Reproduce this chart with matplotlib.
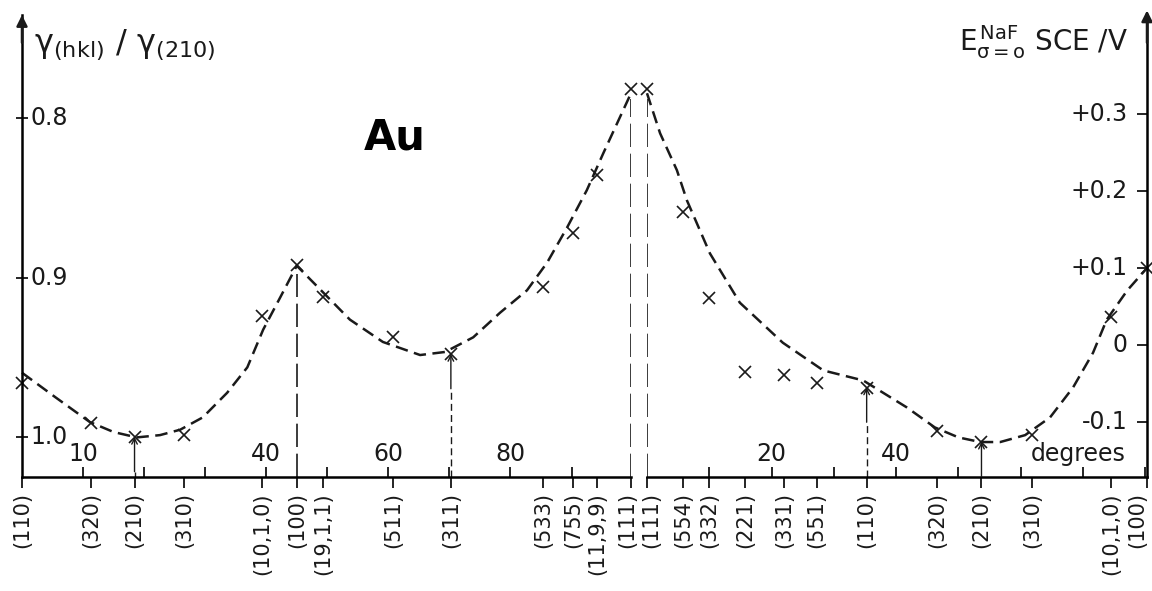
import numpy as np
import matplotlib.pyplot as plt

# left branch of the triangle: (110) -> (100) -> (111), angle from (110) in degrees
left_planes = ['(110)', '(320)', '(210)', '(310)', '(10,1,0)', '(100)', '(19,1,1)',
               '(511)', '(311)', '(533)', '(755)', '(11,9,9)', '(111)']
left_angles = [0.0, 11.31, 18.43, 26.57, 39.29, 45.0, 49.26,
               60.79, 70.24, 85.32, 90.29, 94.17, 99.74]
left_gamma = [0.966, 0.991, 1.000, 0.999, 0.924, 0.892, 0.912,
              0.937, 0.948, 0.906, 0.872, 0.836, 0.782]

# right branch: (111) -> (110) -> (100), angle from (111) in degrees
right_planes = ['(111)', '(554)', '(332)', '(221)', '(331)', '(551)', '(110)',
                '(320)', '(210)', '(310)', '(10,1,0)', '(100)']
right_angles = [0.0, 5.77, 10.02, 15.79, 22.00, 27.22, 35.26,
                46.57, 53.69, 61.83, 74.55, 80.26]
right_gamma = [0.782, 0.859, 0.913, 0.959, 0.961, 0.966, 0.969,
               0.996, 1.003, 0.999, 0.925, 0.894]

# potential of zero charge in NaF (V vs SCE)
left_curve_angle = [0.0, 5.5, 11.1, 15.0, 18.8, 22.6, 25.9, 29.6, 33.6, 36.9, 39.5, 42.3,
                    45.0, 50.1, 53.7, 59.1, 65.2, 69.3, 73.9, 78.3, 82.7, 86.0, 89.3,
                    92.5, 95.2, 99.74]
left_curve_e = [-0.036, -0.068, -0.100, -0.113, -0.120, -0.117, -0.110, -0.094, -0.062,
                -0.029, 0.020, 0.062, 0.103, 0.062, 0.033, 0.004, -0.013, -0.009, 0.010,
                0.042, 0.071, 0.107, 0.153, 0.201, 0.249, 0.327]
right_curve_angle = [0.0, 2.1, 4.8, 6.4, 10.1, 14.9, 21.8, 28.3, 34.7, 41.7, 46.2, 50.0,
                     53.5, 56.7, 60.7, 64.7, 68.4, 71.6, 73.8, 77.1, 80.26]
right_curve_e = [0.327, 0.275, 0.227, 0.188, 0.119, 0.055, 0.003, -0.033, -0.046, -0.081,
                 -0.107, -0.120, -0.126, -0.126, -0.117, -0.094, -0.055, -0.010, 0.033,
                 0.071, 0.100]

gamma_ticks = [0.8, 0.9, 1.0]
e_ticks = [0.3, 0.2, 0.1, 0.0, -0.1]
e_ticklabels = ['+0.3', '+0.2', '+0.1', '0', '-0.1']


def gamma_to_e(g):
    # both vertical scales share the same frame
    return (227 - 1595 * (np.asarray(g) - 0.8)) / 770


E_MIN, E_MAX = -0.1714, 0.4286
INK = '#1a1a1a'
plt.rcParams['font.family'] = ['DejaVu Sans']
plt.rcParams['mathtext.fontset'] = 'dejavusans'

fig = plt.figure(figsize=(11.52, 5.91), dpi=100)
axL = fig.add_axes([22 / 1152, 114 / 591, 609 / 1152, 462 / 591])
axR = fig.add_axes([647 / 1152, 114 / 591, 500 / 1152, 462 / 591])


def draw_branch(ax, angles, gamma, planes, c_ang, c_e, span, nudge):
    ax.set_xlim(0, span)
    ax.set_ylim(E_MIN, E_MAX)
    ax.patch.set_alpha(0)
    ax.plot(c_ang, c_e, color=INK, lw=1.8, ls=(0, (5, 2.6)), clip_on=False)
    ax.plot(angles, gamma_to_e(gamma), 'x', color=INK, ms=8, mew=1.2, clip_on=False)
    ax.spines['top'].set_visible(False)
    ax.spines['bottom'].set_linewidth(1.8)
    ax.set_xticks(angles)
    ax.set_xticklabels([])
    ax.set_xticks(np.arange(10, span, 10), minor=True)
    ax.tick_params(axis='x', which='major', direction='out', length=8, width=1.2)
    ax.tick_params(axis='x', which='minor', direction='in', length=7, width=1.2)
    for k, (a, lab) in enumerate(zip(angles, planes)):
        ax.annotate(lab, xy=(a, 0), xycoords=('data', 'axes fraction'),
                    xytext=(nudge.get(k, 0), -11), textcoords='offset points',
                    rotation=90, ha='center', va='top', fontsize=15, color=INK,
                    annotation_clip=False)


def long_drop(ax, a, g):
    ax.vlines(a, E_MIN, gamma_to_e(g) - 0.012, color=INK, lw=1.2, ls=(0, (14, 4)))


def pointer(ax, a, g):
    e = gamma_to_e(g)
    top = e - 0.045
    if top > E_MIN:
        ax.vlines(a, E_MIN, top, color=INK, lw=1.0, ls=(0, (5, 3)))
    ax.annotate('', xy=(a, e), xytext=(a, max(top, E_MIN)),
                arrowprops=dict(arrowstyle='->', lw=1.0, color=INK,
                                shrinkA=0, shrinkB=0, mutation_scale=10))


# small sideways shifts for crowded labels at the gap and the right edge
draw_branch(axL, left_angles, left_gamma, left_planes, left_curve_angle, left_curve_e,
            99.74, {len(left_planes) - 1: -3})
draw_branch(axR, right_angles, right_gamma, right_planes, right_curve_angle, right_curve_e,
            80.26, {0: 3, len(right_planes) - 1: -7})

# left vertical scale: surface energy ratio
axL.spines['right'].set_visible(False)
axL.spines['left'].set_linewidth(1.8)
axL.set_yticks(gamma_to_e(gamma_ticks))
axL.set_yticklabels([])
axL.tick_params(axis='y', direction='inout', length=8, width=1.2)
for g in gamma_ticks:
    axL.annotate(f'{g:.1f}', xy=(0, gamma_to_e(g)), xycoords=('axes fraction', 'data'),
                 xytext=(6, 0), textcoords='offset points', ha='left', va='center',
                 fontsize=17, color=INK)
axL.annotate('', xy=(0, 1.0), xytext=(0, 0.94), xycoords='axes fraction',
             arrowprops=dict(arrowstyle='-|>', color=INK, lw=1.8, mutation_scale=16,
                             shrinkA=0, shrinkB=0))

# right vertical scale: potential of zero charge
axR.spines['left'].set_visible(False)
axR.spines['right'].set_linewidth(1.8)
axR.yaxis.tick_right()
axR.set_yticks(e_ticks)
axR.set_yticklabels([])
axR.tick_params(axis='y', direction='in', length=7, width=1.2)
for e, lab in zip(e_ticks, e_ticklabels):
    axR.annotate(lab, xy=(1, e), xycoords=('axes fraction', 'data'), xytext=(-14, 0),
                 textcoords='offset points', ha='right', va='center', fontsize=17, color=INK)
axR.annotate('', xy=(1, 1.01), xytext=(1, 0.94), xycoords='axes fraction',
             arrowprops=dict(arrowstyle='-|>', color=INK, lw=1.8, mutation_scale=16,
                             shrinkA=0, shrinkB=0))

# drop lines and pointers at the main planes
for name in ['(100)', '(111)']:
    i = left_planes.index(name)
    long_drop(axL, left_angles[i], left_gamma[i])
i = right_planes.index('(111)')
long_drop(axR, right_angles[i], right_gamma[i])
for name in ['(210)', '(311)']:
    i = left_planes.index(name)
    pointer(axL, left_angles[i], left_gamma[i])
for name in ['(110)', '(210)']:
    i = right_planes.index(name)
    pointer(axR, right_angles[i], right_gamma[i])

# degree scale
for a in [10, 40, 60, 80]:
    axL.text(a, 0.05, str(a), transform=axL.get_xaxis_transform(), ha='center',
             va='center', fontsize=17, color=INK)
for a in [20, 40]:
    axR.text(a, 0.05, str(a), transform=axR.get_xaxis_transform(), ha='center',
             va='center', fontsize=17, color=INK)
axR.text(0.957, 0.05, 'degrees', transform=axR.transAxes, ha='right', va='center',
         fontsize=17, color=INK)

fig.text(34 / 1152, 1 - 45 / 591, r'γ$_{\mathrm{(hkl)}}$ / γ$_{\mathrm{(210)}}$',
         fontsize=23, ha='left', va='center', color=INK)
fig.text(1128 / 1152, 1 - 42 / 591,
         r'E$^{\,\mathrm{NaF}}_{\mathrm{\sigma=o}}$ SCE /V', fontsize=20,
         ha='right', va='center', color=INK)
fig.text(395 / 1152, 1 - 137 / 591, 'Au', fontsize=30, fontweight='bold',
         ha='center', va='center', color='black')

fig.savefig('out.png', dpi=100)
